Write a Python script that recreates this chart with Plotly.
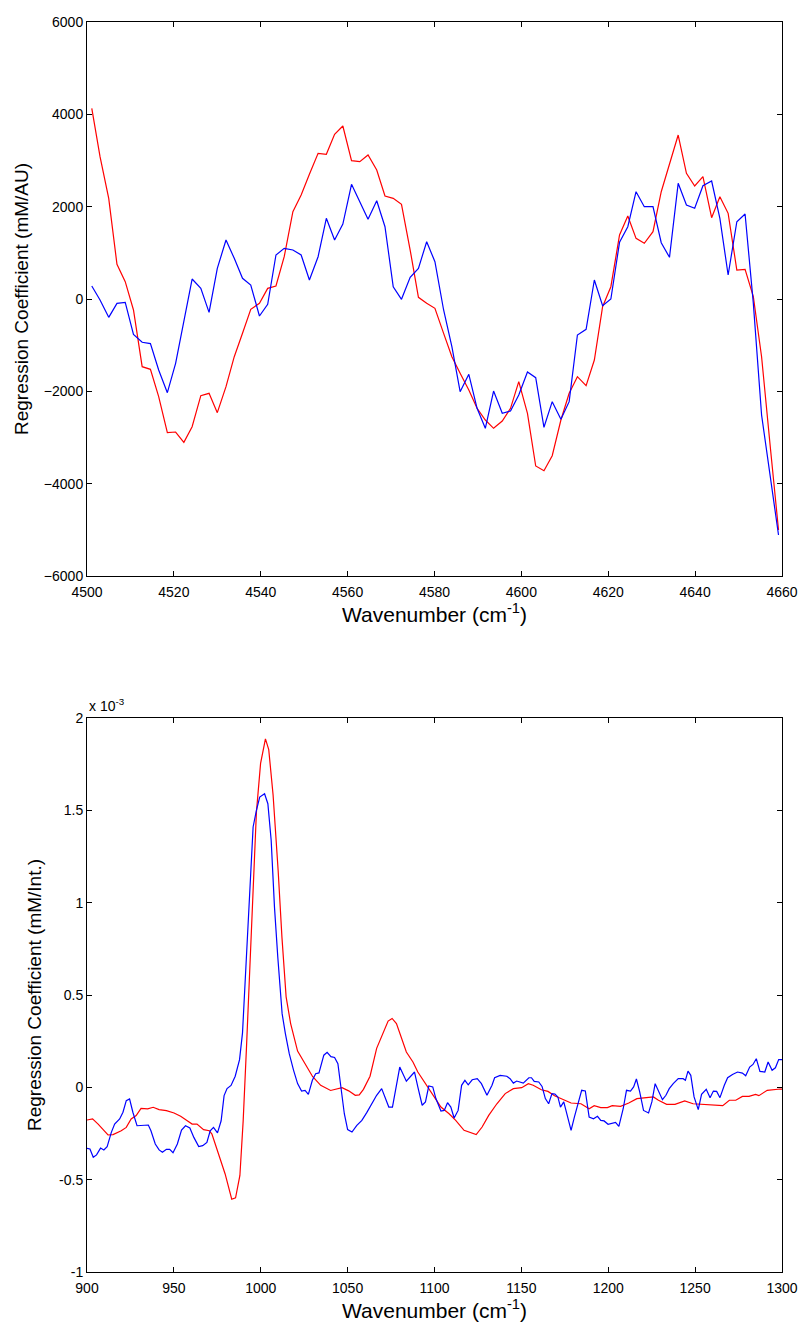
import plotly.graph_objects as go
from plotly.subplots import make_subplots

# ---------------- Top panel (NIR, 4500-4660 cm-1) ----------------
top_wn = [4501.1, 4503.0, 4505.0, 4506.9, 4508.8, 4510.7, 4512.7, 4514.6, 4516.5, 4518.5,
          4520.4, 4522.3, 4524.2, 4526.2, 4528.1, 4530.0, 4532.0, 4533.9, 4535.8, 4537.7,
          4539.7, 4541.6, 4543.5, 4545.4, 4547.4, 4549.3, 4551.2, 4553.2, 4555.1, 4557.0,
          4558.9, 4560.9, 4562.8, 4564.7, 4566.7, 4568.6, 4570.5, 4572.4, 4574.4, 4576.3,
          4578.2, 4580.1, 4582.1, 4584.0, 4585.9, 4587.9, 4589.8, 4591.7, 4593.6, 4595.6,
          4597.5, 4599.4, 4601.4, 4603.3, 4605.2, 4607.1, 4609.1, 4611.0, 4612.9, 4614.9,
          4616.8, 4618.7, 4620.6, 4622.6, 4624.5, 4626.4, 4628.3, 4630.3, 4632.2, 4634.1,
          4636.1, 4638.0, 4639.9, 4641.8, 4643.8, 4645.7, 4647.6, 4649.6, 4651.5, 4653.4,
          4655.3, 4657.3, 4659.2]

top_red = [4131, 3083, 2181, 751, 375, -238, -1466, -1523, -2116, -2896,
           -2881, -3104, -2766, -2094, -2043, -2462, -1899, -1250, -743, -224,
           -94, 231, 281, 916, 1891, 2253, 2701, 3156, 3134, 3567,
           3747, 2996, 2974, 3119, 2794, 2231, 2181, 2051, 1061, 37,
           -94, -202, -744, -1250, -1610, -1971, -2368, -2621, -2801, -2643,
           -2368, -1791, -2476, -3617, -3719, -3394, -2621, -2043, -1683, -1878,
           -1321, -166, 266, 1386, 1798, 1314, 1206, 1458, 2324, 2939,
           3552, 2723, 2448, 2649, 1761, 2216, 1856, 628, 643, 50,
           -1250, -3199, -5003]

top_blue = [281, -22, -397, -94, -72, -765, -938, -967, -1538, -2029,
            -1394, -491, 433, 231, -289, 664, 1278, 881, 448, 303,
            -368, -116, 953, 1098, 1061, 953, 412, 916, 1748, 1278,
            1624, 2484, 2108, 1726, 2129, 1566, 266, -7, 470, 664,
            1241, 808, -238, -1033, -2008, -1631, -2368, -2801, -1993, -2476,
            -2426, -2079, -1581, -1704, -2779, -2224, -2606, -2224, -780, -656,
            412, -145, 0, 1228, 1566, 2324, 1999, 1999, 1220, 903,
            2506, 2036, 1965, 2454, 2556, 1748, 520, 1674, 1841, -94,
            -2513, -3849, -5112]

top_xticks = [4500, 4520, 4540, 4560, 4580, 4600, 4620, 4640, 4660]
top_yticks = [-6000, -4000, -2000, 0, 2000, 4000, 6000]

# ---------------- Bottom panel (Raman, 900-1300 cm-1), values x 1e-3 ----------------
bot_red_wn = [900.0, 903.2, 906.4, 912.1, 915.0, 919.7, 922.6, 925.4, 928.3, 931.1,
              934.9, 938.1, 941.5, 945.7, 950.1, 953.9, 957.7, 960.5, 963.3, 967.1,
              970.4, 971.9, 975.7, 979.5, 983.3, 985.5, 988.0, 989.9, 991.8, 993.7,
              995.6, 997.5, 999.9, 1001.4, 1002.7, 1004.6, 1007.1, 1010.0, 1012.2, 1014.6,
              1017.2, 1021.2, 1025.0, 1029.8, 1034.5, 1040.2, 1046.8, 1050.6, 1054.4, 1056.7,
              1059.1, 1062.9, 1066.7, 1069.6, 1073.3, 1075.6, 1078.1, 1083.8, 1087.6, 1090.4,
              1094.2, 1099.0, 1103.7, 1108.4, 1112.2, 1117.0, 1119.8, 1124.0, 1127.4, 1131.2,
              1135.9, 1140.7, 1145.4, 1150.2, 1154.0, 1156.8, 1161.5, 1165.3, 1169.1, 1172.9,
              1178.6, 1184.3, 1189.0, 1191.9, 1195.7, 1199.5, 1202.3, 1207.1, 1211.8, 1216.5,
              1222.2, 1226.0, 1228.9, 1233.6, 1238.4, 1244.0, 1248.8, 1254.5, 1260.2, 1265.9,
              1269.7, 1273.4, 1277.2, 1281.0, 1284.8, 1286.7, 1291.5, 1295.3, 1299.0, 1300.0]

bot_red = [-0.177, -0.171, -0.199, -0.258, -0.256, -0.235, -0.217, -0.171, -0.153, -0.114,
           -0.117, -0.108, -0.121, -0.126, -0.139, -0.157, -0.181, -0.199, -0.199, -0.229,
           -0.235, -0.253, -0.361, -0.469, -0.606, -0.598, -0.477, -0.179, 0.218, 0.652,
           1.121, 1.490, 1.754, 1.818, 1.887, 1.829, 1.583, 1.176, 0.812, 0.490,
           0.345, 0.196, 0.133, 0.059, 0.011, -0.017, -0.002, -0.019, -0.043, -0.041,
           -0.011, 0.060, 0.211, 0.280, 0.359, 0.373, 0.345, 0.191, 0.137, 0.083,
           0.029, -0.034, -0.107, -0.143, -0.179, -0.233, -0.242, -0.256, -0.215, -0.152,
           -0.089, -0.034, -0.007, -0.002, 0.020, 0.011, -0.013, -0.022, -0.046, -0.061,
           -0.085, -0.089, -0.116, -0.099, -0.110, -0.110, -0.099, -0.103, -0.085, -0.061,
           -0.056, -0.052, -0.070, -0.092, -0.092, -0.074, -0.089, -0.092, -0.096, -0.099,
           -0.070, -0.070, -0.049, -0.049, -0.038, -0.045, -0.016, -0.011, -0.009, -0.010]

bot_blue_wn = [900.0, 901.7, 903.6, 905.5, 907.8, 909.7, 911.6, 914.0, 915.9, 918.8,
               920.7, 922.6, 924.5, 926.4, 928.8, 932.1, 935.3, 936.8, 939.3, 941.5,
               943.4, 945.7, 947.6, 949.5, 952.0, 954.4, 956.7, 959.2, 961.5, 964.3,
               966.6, 969.0, 970.9, 972.8, 975.1, 977.2, 978.9, 980.6, 982.9, 985.3,
               987.8, 989.5, 991.4, 993.7, 995.6, 997.5, 999.4, 1002.2, 1004.1, 1006.0,
               1007.9, 1009.8, 1012.3, 1014.2, 1016.4, 1018.9, 1021.2, 1023.5, 1025.5, 1027.4,
               1029.7, 1031.6, 1033.5, 1036.3, 1038.2, 1040.4, 1042.5, 1044.4, 1046.3, 1048.1,
               1050.0, 1052.5, 1055.3, 1058.2, 1061.0, 1063.9, 1066.7, 1069.6, 1071.5, 1073.7,
               1075.8, 1078.1, 1080.0, 1083.8, 1088.5, 1090.4, 1092.9, 1094.8, 1096.7, 1099.0,
               1100.8, 1103.7, 1105.6, 1107.5, 1109.4, 1111.3, 1113.6, 1115.6, 1117.5, 1119.4,
               1121.7, 1124.6, 1127.0, 1130.2, 1133.1, 1134.6, 1137.8, 1141.6, 1143.5, 1145.4,
               1147.3, 1151.1, 1154.3, 1155.8, 1157.4, 1160.0, 1161.9, 1163.8, 1165.7, 1167.6,
               1169.3, 1171.0, 1172.5, 1174.4, 1176.7, 1178.6, 1180.5, 1182.4, 1184.7, 1186.8,
               1189.0, 1191.5, 1193.8, 1195.7, 1197.6, 1199.9, 1202.3, 1204.2, 1206.1, 1208.6,
               1210.5, 1212.8, 1214.6, 1216.2, 1218.1, 1220.3, 1223.2, 1225.1, 1227.0, 1228.9,
               1231.2, 1233.2, 1235.1, 1237.4, 1240.3, 1243.1, 1244.4, 1245.9, 1247.5, 1249.4,
               1251.8, 1253.7, 1256.4, 1258.6, 1260.5, 1262.4, 1264.3, 1266.8, 1268.7, 1271.5,
               1274.4, 1277.2, 1279.1, 1281.4, 1283.3, 1285.2, 1287.3, 1290.1, 1292.0, 1294.3,
               1296.2, 1298.1, 1300.0]

bot_blue = [-0.330, -0.334, -0.379, -0.366, -0.329, -0.339, -0.321, -0.244, -0.199, -0.171,
            -0.135, -0.072, -0.063, -0.135, -0.208, -0.208, -0.204, -0.235, -0.307, -0.339,
            -0.352, -0.336, -0.336, -0.354, -0.307, -0.231, -0.208, -0.220, -0.271, -0.321,
            -0.316, -0.298, -0.235, -0.217, -0.247, -0.181, -0.045, -0.007, 0.010, 0.060,
            0.150, 0.295, 0.652, 1.121, 1.410, 1.500, 1.572, 1.590, 1.536, 1.338,
            0.976, 0.706, 0.399, 0.290, 0.182, 0.092, 0.020, -0.020, -0.016, -0.038,
            0.038, 0.074, 0.078, 0.174, 0.190, 0.166, 0.162, 0.128, -0.012, -0.143,
            -0.229, -0.242, -0.206, -0.179, -0.137, -0.089, -0.043, -0.007, -0.052, -0.107,
            -0.107, 0.011, 0.110, 0.033, 0.083, 0.002, -0.097, -0.079, 0.007, 0.002,
            -0.061, -0.128, -0.125, -0.083, -0.107, -0.166, -0.125, 0.011, 0.038, 0.014,
            0.041, 0.047, 0.020, -0.043, 0.011, 0.052, 0.065, 0.060, 0.047, 0.023,
            0.034, 0.023, 0.052, 0.052, 0.032, 0.029, 0.005, -0.061, -0.089, -0.034,
            -0.036, -0.052, -0.107, -0.079, -0.170, -0.233, -0.161, -0.089, -0.016, -0.020,
            -0.161, -0.170, -0.157, -0.179, -0.182, -0.200, -0.193, -0.190, -0.211, -0.116,
            -0.016, -0.020, 0.002, 0.045, -0.025, -0.125, -0.139, -0.079, 0.020, -0.016,
            -0.067, -0.043, -0.007, 0.020, 0.047, 0.047, 0.038, 0.088, 0.065, -0.052,
            -0.121, -0.038, -0.011, -0.056, -0.020, -0.022, -0.056, 0.011, 0.052, 0.070,
            0.083, 0.077, 0.063, 0.110, 0.124, 0.155, 0.086, 0.083, 0.137, 0.092,
            0.106, 0.150, 0.150]

bot_xticks = [900, 950, 1000, 1050, 1100, 1150, 1200, 1250, 1300]
bot_yticks = [-1, -0.5, 0, 0.5, 1, 1.5, 2]
bot_yticklabels = ["-1", "-0.5", "0", "0.5", "1", "1.5", "2"]

RED = "#FF0000"
BLUE = "#0000FF"
FONT = "Liberation Sans, Arial, sans-serif"

fig = make_subplots(rows=2, cols=1, vertical_spacing=0.1136)

fig.add_trace(go.Scatter(x=top_wn, y=top_red, mode="lines",
                         line=dict(color=RED, width=1.2), showlegend=False), row=1, col=1)
fig.add_trace(go.Scatter(x=top_wn, y=top_blue, mode="lines",
                         line=dict(color=BLUE, width=1.2), showlegend=False), row=1, col=1)
fig.add_trace(go.Scatter(x=bot_red_wn, y=bot_red, mode="lines",
                         line=dict(color=RED, width=1.2), showlegend=False), row=2, col=1)
fig.add_trace(go.Scatter(x=bot_blue_wn, y=bot_blue, mode="lines",
                         line=dict(color=BLUE, width=1.2), showlegend=False), row=2, col=1)

axis_common = dict(showline=True, linecolor="black", linewidth=1, mirror="ticks",
                   ticks="inside", ticklen=5, tickcolor="black", showgrid=False,
                   zeroline=False, tickfont=dict(family=FONT, size=14, color="black"))

fig.update_xaxes(**axis_common)
fig.update_yaxes(**axis_common)
fig.update_xaxes(ticklabelstandoff=3)

xtitle = "Wavenumber (cm<sup>-1</sup>)"
fig.update_xaxes(range=[4500, 4660], tickvals=top_xticks, row=1, col=1,
                 title=dict(text=xtitle, font=dict(family=FONT, size=21, color="black"), standoff=8))
fig.update_yaxes(range=[-6000, 6000], tickvals=top_yticks, row=1, col=1,
                 title=dict(text="Regression Coefficient (mM/AU)",
                            font=dict(family=FONT, size=19, color="black"), standoff=10))
fig.update_xaxes(range=[900, 1300], tickvals=bot_xticks, row=2, col=1,
                 title=dict(text=xtitle, font=dict(family=FONT, size=21, color="black"), standoff=8))
fig.update_yaxes(range=[-1, 2], tickvals=bot_yticks, ticktext=bot_yticklabels, row=2, col=1,
                 title=dict(text="Regression Coefficient (mM/Int.)",
                            font=dict(family=FONT, size=19, color="black"), standoff=12))

fig.add_annotation(text="x 10<sup>-3</sup>", xref="paper", yref="paper",
                   x=0.0, y=0.4432, xanchor="left", yanchor="bottom", yshift=2,
                   showarrow=False, font=dict(family=FONT, size=14, color="black"))

fig.update_layout(width=810, height=1331,
                  margin=dict(l=87, r=20, t=22, b=59),
                  paper_bgcolor="white", plot_bgcolor="white")

fig.write_html("out.html")
